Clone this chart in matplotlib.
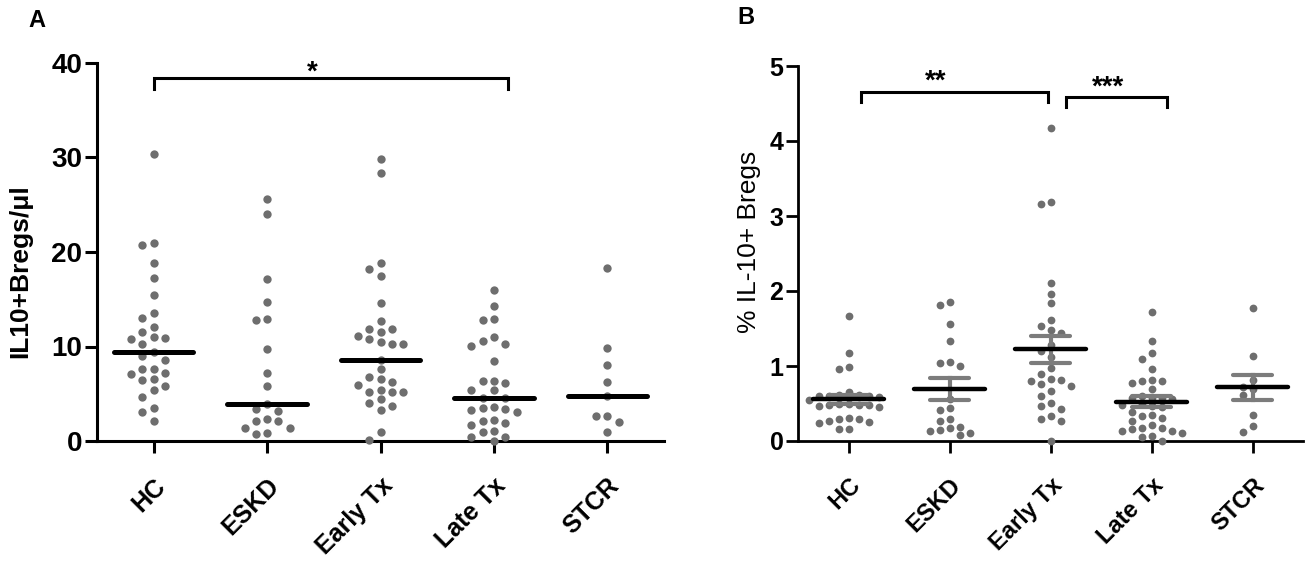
import numpy as np
import matplotlib
matplotlib.use("Agg")
import matplotlib.pyplot as plt

plt.rcParams['font.family'] = ['Liberation Sans', 'DejaVu Sans']

categories = ["HC", "ESKD", "Early Tx", "Late Tx", "STCR"]

# Panel A: IL10+ Bregs per microlitre (median line)
a_hc = [30.4, 21.0, 20.7, 18.8, 17.3, 15.4, 13.5, 13.0, 12.1, 11.5, 11.0, 10.9, 10.8,
        10.3, 9.45, 9.0, 8.6, 7.6, 7.6, 7.2, 7.1, 6.6, 6.5, 5.8, 5.4, 4.7, 3.5, 3.1, 2.1]
a_eskd = [25.6, 24.0, 17.1, 14.7, 12.9, 12.8, 9.7, 7.2, 5.8, 3.9, 3.35, 3.2, 2.3,
          2.15, 2.15, 1.4, 1.4, 0.8, 0.7]
a_early = [29.8, 28.4, 18.8, 18.2, 17.5, 14.6, 12.7, 11.85, 11.85, 11.5, 11.1, 10.8,
           10.5, 10.3, 10.3, 8.6, 7.6, 6.8, 6.6, 6.2, 5.9, 5.4, 5.2, 5.15, 5.15, 4.4,
           4.0, 3.7, 3.3, 1.0, 0.1]
a_late = [16.0, 14.25, 12.9, 12.8, 11.0, 10.6, 10.3, 10.05, 8.5, 6.4, 6.3, 6.1, 5.4,
          5.4, 4.5, 4.5, 3.6, 3.5, 3.4, 3.25, 3.1, 2.2, 2.15, 1.9, 1.7, 1.1, 0.95,
          0.4, 0.4, 0.05]
a_stcr = [18.3, 9.8, 8.0, 6.2, 4.75, 2.65, 2.6, 2.0, 0.95]

# Panel B: % IL-10+ Bregs (mean +/- SEM)
b_hc = [1.67, 1.18, 0.99, 0.96, 0.65, 0.62, 0.61, 0.60, 0.60, 0.60, 0.59, 0.55, 0.50,
        0.49, 0.48, 0.48, 0.48, 0.47, 0.46, 0.31, 0.29, 0.29, 0.27, 0.26, 0.24, 0.16, 0.16]
b_eskd = [1.85, 1.82, 1.56, 1.34, 1.06, 1.04, 1.0, 0.56, 0.44, 0.42, 0.29, 0.27, 0.19,
          0.18, 0.15, 0.13, 0.11, 0.08]
b_early = [4.18, 3.19, 3.16, 2.11, 1.96, 1.84, 1.61, 1.54, 1.48, 1.44, 1.28, 1.20, 1.12,
           0.98, 0.89, 0.83, 0.81, 0.80, 0.76, 0.74, 0.67, 0.60, 0.51, 0.47, 0.43, 0.34,
           0.29, 0.27, 0.0]
b_late = [1.72, 1.33, 1.18, 1.10, 0.96, 0.81, 0.80, 0.80, 0.78, 0.70, 0.60, 0.58, 0.58,
          0.57, 0.56, 0.49, 0.48, 0.47, 0.46, 0.39, 0.35, 0.34, 0.31, 0.27, 0.21, 0.17,
          0.17, 0.16, 0.14, 0.14, 0.11, 0.07, 0.06, 0.0]
b_stcr = [1.78, 1.14, 0.81, 0.72, 0.70, 0.61, 0.35, 0.20, 0.12]

groups_a = [a_hc, a_eskd, a_early, a_late, a_stcr]
groups_b = [b_hc, b_eskd, b_early, b_late, b_stcr]

yticks_a = [0, 10, 20, 30, 40]
yticks_b = [0, 1, 2, 3, 4, 5]

DOT = '#6e6e6e'
ERR = '#7c7c7c'

W, H = 1315, 569
fig = plt.figure(figsize=(W / 100, H / 100), dpi=100)
axA = fig.add_axes([97 / W, 1 - 441 / H, (664 - 97) / W, (441 - 63) / H])
axB = fig.add_axes([798 / W, 1 - 441 / H, (1303 - 798) / W, (441 - 66) / H])


def style_axis(ax, ylim, yticks, spine_w, tick_fs, tick_family, xfs):
    ax.set_xlim(-0.5, 4.5)
    ax.set_ylim(*ylim)
    for s in ['top', 'right']:
        ax.spines[s].set_visible(False)
    for s in ['left', 'bottom']:
        ax.spines[s].set_linewidth(spine_w)
    ax.tick_params(axis='both', direction='out', length=8.5, width=spine_w)
    ax.set_yticks(yticks)
    ax.set_yticklabels([str(t) for t in yticks], fontsize=tick_fs,
                       fontweight='bold', family=tick_family)
    ax.set_xticks(range(len(categories)))
    ax.set_xticklabels(categories, rotation=45, ha='right', va='top',
                       rotation_mode='anchor', fontsize=xfs, fontweight='bold')
    ax.tick_params(axis='x', pad=15)
    ax.tick_params(axis='y', pad=2)


def swarm_x(ax, values, x0, col_px, thr_px):
    vals = np.asarray(values, dtype=float)
    ys = ax.transData.transform(np.column_stack([np.full(len(vals), x0), vals]))[:, 1]
    px_unit = ax.transData.transform([[1, 0]])[0, 0] - ax.transData.transform([[0, 0]])[0, 0]
    order = np.argsort(-vals, kind='stable')
    placed = {}
    cols = np.zeros(len(vals))
    cand = [0, -1, 1, -2, 2, -3, 3, -4, 4, -5, 5]
    for i in order:
        chosen = cand[-1]
        for c in cand:
            if all(abs(ys[i] - y) >= thr_px for y in placed.get(c, [])):
                chosen = c
                break
        placed.setdefault(chosen, []).append(ys[i])
        cols[i] = chosen
    return x0 + cols * col_px / px_unit


style_axis(axA, (0, 40), yticks_a, 2.2, 20, ['Liberation Sans', 'DejaVu Sans'], 18)
style_axis(axB, (0, 5), yticks_b, 2.0, 18, ['Liberation Sans Narrow', 'Liberation Sans'], 17)

# Panel A
for i, g in enumerate(groups_a):
    xs = swarm_x(axA, g, i, 11.3, 9.0)
    axA.plot(xs, g, 'o', color=DOT, ms=6.0, mec='none', clip_on=False, zorder=3)
    med = np.median(g)
    axA.plot([i - 0.35, i + 0.35], [med, med], color='black', lw=3.6,
             solid_capstyle='round', zorder=5)

axA.set_ylabel('IL10+Bregs/μl', fontsize=19, fontweight='bold')
axA.yaxis.set_label_coords(-0.115, 0.45)

# Panel B
for i, g in enumerate(groups_b):
    xs = swarm_x(axB, g, i, 10.0, 8.0)
    axB.plot(xs, g, 'o', color=DOT, ms=5.6, mec='none', clip_on=False, zorder=3)
    arr = np.asarray(g)
    m = arr.mean()
    sem = arr.std(ddof=1) / np.sqrt(len(arr))
    axB.plot([i, i], [m - sem, m + sem], color=ERR, lw=3.0, zorder=4)
    for yy in (m - sem, m + sem):
        axB.plot([i - 0.19, i + 0.19], [yy, yy], color=ERR, lw=3.0,
                 solid_capstyle='round', zorder=4)
    axB.plot([i - 0.35, i + 0.35], [m, m], color='black', lw=3.2,
             solid_capstyle='round', zorder=5)

axB.set_ylabel('% IL-10+ Bregs', fontsize=19)
axB.yaxis.set_label_coords(-0.074, 0.532)


def bracket(ax, x1, x2, ytop, ylow, lw):
    ax.plot([x1, x1, x2, x2], [ylow, ytop, ytop, ylow], color='black', lw=lw,
            clip_on=False, zorder=6, solid_joinstyle='miter')


bracket(axA, 0.0, 3.12, 38.4, 37.2, 2.2)
axA.text(1.4, 37.65, '*', ha='center', va='bottom', fontsize=20, fontweight='bold')

bracket(axB, 0.12, 1.98, 4.65, 4.52, 2.2)
bracket(axB, 2.15, 3.15, 4.59, 4.46, 2.2)
axB.text(0.86, 4.62, '**', ha='center', va='bottom', fontsize=20, fontweight='bold')
axB.text(2.57, 4.54, '***', ha='center', va='bottom', fontsize=20, fontweight='bold')

fig.text(28 / W, 1 - 9 / H, 'A', fontsize=17, fontweight='bold', ha='left', va='top')
fig.text(737 / W, 1 - 6 / H, 'B', fontsize=17, fontweight='bold', ha='left', va='top')

fig.savefig('out.png', dpi=100)
